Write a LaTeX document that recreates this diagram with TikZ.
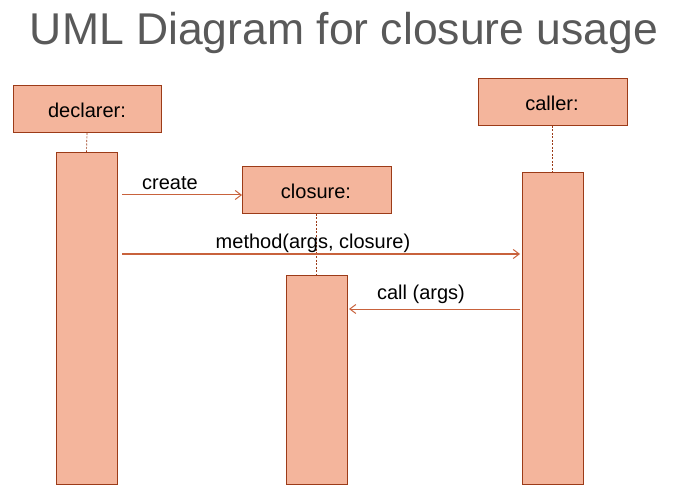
\documentclass[tikz,border=0pt]{standalone}
\usepackage{fontspec}
\setmainfont{Liberation Sans}
\usetikzlibrary{arrows.meta}
\definecolor{boxfill}{HTML}{F4B59C}
\definecolor{boxline}{HTML}{9C3B18}
\definecolor{arrcol}{HTML}{C8623C}
\definecolor{titlecol}{HTML}{595959}
\tikzset{
  objbox/.style={draw=boxline, fill=boxfill, line width=1pt, inner sep=0pt, outer sep=0pt},
  lifeline/.style={draw=boxline, dashed, dash pattern=on 2pt off 1.5pt, line width=0.7pt},
  msg/.style={draw=arrcol, line width=1pt, -{Straight Barb[length=6pt,width=9pt]}},
  lbl/.style={font=\fontsize{20}{24}\selectfont, inner sep=0pt}
}
\begin{document}
\begin{tikzpicture}[x=1pt,y=-1pt]
\useasboundingbox (0,0) rectangle (674,486);
\node[font=\fontsize{44.5}{50}\selectfont, text=titlecol, anchor=base, inner sep=0pt] (title) at (344,45) {UML Diagram for closure usage};
% object boxes
\node[objbox, minimum width=148pt, minimum height=47pt, anchor=north west] (decl) at (13,86) {};
\node[lbl] (decltxt) at (87,110) {declarer:};
\node[objbox, minimum width=149pt, minimum height=47pt, anchor=north west] (clos) at (242,167) {};
\node[lbl] (clostxt) at (316,191) {closure:};
\node[objbox, minimum width=149pt, minimum height=47pt, anchor=north west] (call) at (478,79) {};
\node[lbl] (calltxt) at (552,103) {caller:};
% activations
\node[objbox, minimum width=61pt, minimum height=331pt, anchor=north west] (declact) at (56,153) {};
\node[objbox, minimum width=61pt, minimum height=209pt, anchor=north west] (closact) at (286,275) {};
\node[objbox, minimum width=61pt, minimum height=311pt, anchor=north west] (callact) at (522,173) {};
% lifelines
\draw[lifeline] (decl.south) -- (declact.north);
\draw[lifeline] (clos.south) -- (closact.north);
\draw[lifeline] (call.south) -- (callact.north);
% messages
\coordinate (c1s) at (122,195);
\coordinate (c2s) at (122,254);
\coordinate (c2e) at (520,254);
\coordinate (c3s) at (520,309);
\coordinate (c3e) at (349,309);
\draw[msg] (c1s) -- (clos.west |- c1s);
\node[lbl, anchor=base] (create) at (170,190) {create};
\draw[msg] (c2s) -- (c2e);
\node[lbl, anchor=base] (mtxt) at (313,249) {method(args, closure)};
\draw[msg] (c3s) -- (c3e);
\node[lbl, anchor=base] (ctxt) at (421,299) {call (args)};
\end{tikzpicture}
\end{document}
